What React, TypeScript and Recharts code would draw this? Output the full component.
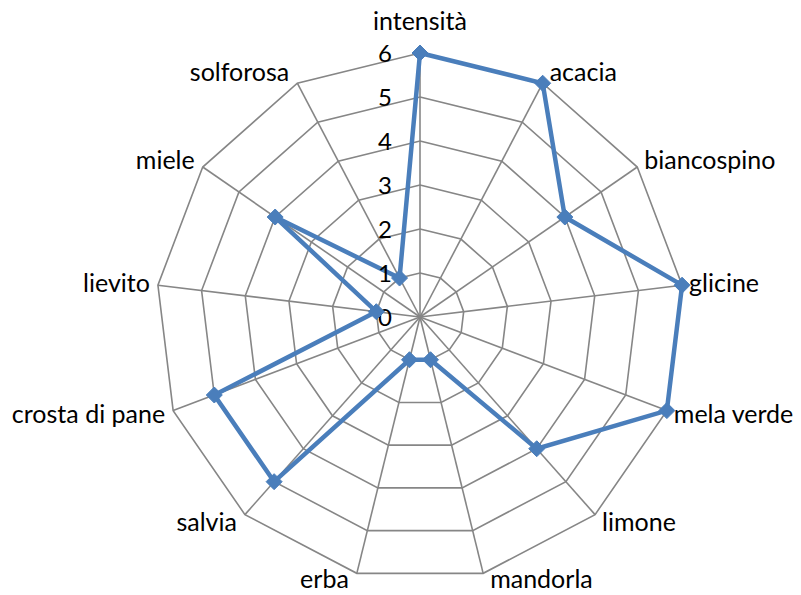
import { RadarChart, Radar, PolarGrid, PolarAngleAxis, PolarRadiusAxis } from 'recharts';

const categories = [
  'intensità',
  'acacia',
  'biancospino',
  'glicine',
  'mela verde',
  'limone',
  'mandorla',
  'erba',
  'salvia',
  'crosta di pane',
  'lievito',
  'miele',
  'solforosa',
];
const scores = [6, 6, 4, 6, 6, 4, 1, 1, 5, 5, 1, 4, 1];
const radiusTicks = [0, 1, 2, 3, 4, 5, 6];

const data = categories.map((name, i) => ({ name, value: scores[i] }));

const CX = 420;
const CY = 317;
const R = 264;
const FONT = 'Lato, "Open Sans", sans-serif';
const BLUE = '#4a7ebb';
const GRID = '#868686';

const AngleTick = (props: any) => {
  const { payload } = props;
  const rad = (-Math.PI / 180) * payload.coordinate;
  const vx = CX + Math.cos(rad) * R;
  const vy = CY + Math.sin(rad) * R;
  const s = Math.cos(rad); // horizontal component
  const c = -Math.sin(rad); // upward component
  let anchor: 'start' | 'end' | 'middle' = 'middle';
  let x = vx;
  let y = Math.min(vy + 8 - 11 * c, 588);
  if (s > 0.1) {
    anchor = 'start';
    x = vx + 7;
  } else if (s < -0.1) {
    anchor = 'end';
    x = vx - 8;
  } else {
    y = c > 0 ? vy - 23 : 588;
  }
  return (
    <text x={x} y={y} textAnchor={anchor} fontSize={25} fontFamily={FONT} fill="#000">
      {payload.value}
    </text>
  );
};

const RadiusTick = (props: any) => {
  const { payload, y } = props;
  return (
    <text x={CX - 28} y={y + 9} textAnchor="end" fontSize={24} fontFamily={FONT} fill="#000">
      {payload.value}
    </text>
  );
};

const Diamond = (props: any) => {
  const { cx, cy } = props;
  if (cx == null || cy == null) return <g />;
  const h = 8;
  return (
    <polygon
      points={`${cx},${cy - h} ${cx + h},${cy} ${cx},${cy + h} ${cx - h},${cy}`}
      fill={BLUE}
      stroke={BLUE}
      strokeWidth={1}
    />
  );
};

export default function App() {
  return (
    <div style={{ position: 'absolute', left: 0, top: 0, width: 801, height: 595, background: '#fff' }}>
      <RadarChart
        width={801}
        height={595}
        data={data}
        cx={CX}
        cy={CY}
        outerRadius={R}
        margin={{ top: 0, right: 0, bottom: 0, left: 0 }}
      >
        <PolarGrid gridType="polygon" stroke={GRID} strokeWidth={1.6} />
        <PolarAngleAxis dataKey="name" tick={AngleTick} tickLine={false} axisLine={false} />
        <PolarRadiusAxis
          angle={90}
          domain={[0, 6]}
          ticks={radiusTicks as any}
          tickCount={7}
          axisLine={false}
          tickLine={false}
          tick={RadiusTick}
        />
        <Radar
          dataKey="value"
          stroke={BLUE}
          strokeWidth={4.5}
          fill="none"
          fillOpacity={0}
          dot={Diamond}
          isAnimationActive={false}
        />
      </RadarChart>
    </div>
  );
}
